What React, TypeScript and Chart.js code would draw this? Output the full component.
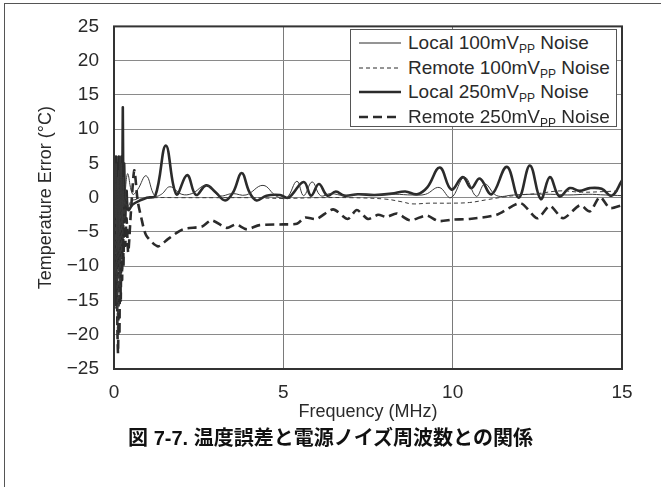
import React, { useEffect, useRef } from 'react';
import { Chart, registerables } from 'chart.js';

Chart.register(...registerables);

// ---- data (MHz, °C) ----
const local100X = [0, 0.02, 0.04, 0.06, 0.08, 0.1, 0.12, 0.14, 0.16, 0.18, 0.2, 0.22, 0.24, 0.27, 0.3, 0.4, 0.55, 0.7, 0.95, 1.2, 1.4, 1.65, 2.0, 2.3, 2.72, 3.1, 3.5, 3.9, 4.4, 4.8, 5.1, 5.4, 5.6, 5.85, 6.1, 6.4, 6.8, 7.3, 7.8, 8.3, 8.8, 9.2, 9.6, 9.95, 10.35, 10.7, 10.95, 11.3, 11.8, 12.3, 12.9, 13.4, 14.0, 14.5, 15];
const local100Y = [0, 4, -3, 5, -6, 3, -8, 4, -5, 6, -2, 5, -4, 3, -1, 3.5, 0.5, 1.2, 3.2, 0.3, 0.5, 1.6, 0.5, 0.6, 1.8, 0.3, 0.6, 0.4, 1.8, 0.2, 0.0, 2.4, 0.3, 2.3, 0.3, 0.6, 0.3, 0.5, 0.4, 0.5, 0.4, 0.5, 1.5, 0.0, 3.0, 0.2, 2.0, 0.3, 0.4, 0.5, 0.5, 0.4, 0.5, 0.4, 0.3];

const remote100X = [0, 0.02, 0.04, 0.06, 0.08, 0.1, 0.12, 0.14, 0.16, 0.18, 0.2, 0.22, 0.24, 0.26, 0.28, 0.31, 0.35, 0.4, 0.5, 0.6, 0.8, 1.2, 2, 3, 4, 5, 6, 7, 8, 8.5, 8.8, 9.3, 9.9, 10.5, 11.0, 11.5, 12.0, 12.5, 13.2, 13.8, 14.5, 15];
const remote100Y = [0, -6, 2, -12, -3, -20, -8, -17, -2, -13, 2, -9, 1, -6, 0, -3, 0.5, -1.5, -0.5, -0.3, -0.2, 0, 0, 0, 0, -0.1, 0, 0, -0.2, -0.6, -0.9, -0.8, -0.8, -0.7, -0.3, 0.1, 0.4, 0.6, 1.0, 0.8, 0.9, 1.0];

const local250X = [0, 0.02, 0.04, 0.06, 0.08, 0.1, 0.12, 0.14, 0.16, 0.18, 0.2, 0.22, 0.24, 0.26, 0.28, 0.3, 0.33, 0.37, 0.42, 0.55, 0.77, 0.97, 1.22, 1.53, 1.84, 2.16, 2.42, 2.72, 3.0, 3.28, 3.52, 3.77, 4.0, 4.21, 4.5, 4.9, 5.15, 5.6, 5.82, 6.05, 6.3, 6.55, 6.8, 7.2, 7.7, 8.2, 8.6, 8.95, 9.25, 9.62, 9.96, 10.3, 10.55, 10.8, 11.15, 11.6, 11.95, 12.28, 12.6, 12.87, 13.15, 13.46, 13.75, 14.05, 14.4, 14.7, 15];
const local250Y = [0, 5, -5, 6, -8, 5, -10, 6, -9, 4, -7, 6, -3, 13.2, -2, 5, -3, 1, -1.8, -1.0, -0.4, 0, 0.3, 7.6, 0.5, 3.3, 0.4, 1.8, 0.8, -0.4, 0.8, 3.6, 0.8, -0.4, 0.3, 0.4, 0.0, 2.3, 0.3, 2.0, 0.3, 0.9, 0.3, 0.5, 0.4, 0.6, 0.9, 0.5, 1.5, 4.4, 1.2, 3.0, 1.4, 2.8, 0.5, 4.5, 0.0, 4.7, -0.2, 3.0, 0.2, 1.4, 1.0, 1.4, 1.3, 0.3, 2.5];

const remote250X = [0, 0.02, 0.04, 0.06, 0.08, 0.1, 0.12, 0.14, 0.16, 0.18, 0.2, 0.22, 0.24, 0.26, 0.28, 0.3, 0.33, 0.37, 0.42, 0.5, 0.6, 0.7, 0.8, 0.95, 1.3, 1.6, 2.04, 2.6, 2.88, 3.33, 3.6, 3.92, 4.3, 5.0, 5.4, 5.64, 5.98, 6.47, 6.9, 7.17, 7.5, 7.8, 8.05, 8.35, 8.74, 9.23, 9.57, 10.0, 10.5, 11.3, 12.0, 12.5, 12.87, 13.26, 13.76, 14.05, 14.35, 14.64, 15];
const remote250Y = [0, -9, 1, -16, -4, -19, -22.7, -11, -20, -6, -15, 1, -12, 3, -10, 0, -7, -3, -8, -2, 4.0, -0.5, -2.8, -5.5, -7.1, -6, -4.6, -4.2, -3.3, -4.4, -3.9, -4.6, -4.0, -3.9, -3.8, -2.9, -3.1, -1.7, -3.1, -1.8, -3.1, -2.5, -2.8, -2.3, -3.3, -2.6, -3.4, -3.2, -3.1, -2.5, -0.8, -3.0, -1.2, -3.0, -1.1, -2.0, 0.1, -1.5, -1.1];

const xMin = 0, xMax = 15, xStep = 5;
const yMin = -25, yMax = 25, yStep = 5;
const xTitle = 'Frequency (MHz)';
const yTitle = 'Temperature Error (°C)';
const caption = '図 7-7. 温度誤差と電源ノイズ周波数との関係';

const legendItems = [
  { pre: 'Local 100mV', sub: 'PP', post: ' Noise', width: 1, dash: '' },
  { pre: 'Remote 100mV', sub: 'PP', post: ' Noise', width: 1, dash: '4 3' },
  { pre: 'Local 250mV', sub: 'PP', post: ' Noise', width: 2.6, dash: '' },
  { pre: 'Remote 250mV', sub: 'PP', post: ' Noise', width: 2.6, dash: '9 5' },
];

const zip = (xs: number[], ys: number[]) => xs.map((x, i) => ({ x, y: ys[i] }));

const FONT = "'Liberation Sans', Arial, Helvetica, sans-serif";
const TEXT = '#2a2a2a';

const framePlugin = {
  id: 'frame',
  afterDatasetsDraw(chart: any) {
    const { ctx, chartArea: a } = chart;
    ctx.save();
    ctx.strokeStyle = '#333';
    ctx.lineWidth = 2;
    ctx.strokeRect(a.left, a.top, a.right - a.left, a.bottom - a.top);
    ctx.restore();
  },
};

export default function App() {
  const ref = useRef<HTMLCanvasElement | null>(null);

  useEffect(() => {
    if (!ref.current) return;
    const common = { pointRadius: 0, fill: false, tension: 0.4 };
    const chart = new Chart(ref.current, {
      type: 'line',
      data: {
        datasets: [
          { ...common, label: 'Local 100mVPP Noise', data: zip(local100X, local100Y), borderColor: '#3a3a3a', borderWidth: 1 },
          { ...common, label: 'Remote 100mVPP Noise', data: zip(remote100X, remote100Y), borderColor: '#3a3a3a', borderWidth: 1, borderDash: [4, 3] },
          { ...common, label: 'Local 250mVPP Noise', data: zip(local250X, local250Y), borderColor: '#2b2b2b', borderWidth: 2.6 },
          { ...common, label: 'Remote 250mVPP Noise', data: zip(remote250X, remote250Y), borderColor: '#2b2b2b', borderWidth: 2.6, borderDash: [9, 5], tension: 0.25 },
        ],
      },
      options: {
        responsive: false,
        animation: false,
        parsing: false as any,
        layout: { padding: { left: 35, top: 26, right: 39, bottom: 64 } },
        plugins: { legend: { display: false }, tooltip: { enabled: false } },
        scales: {
          x: {
            type: 'linear',
            min: xMin,
            max: xMax,
            ticks: { stepSize: xStep, color: TEXT, font: { family: FONT, size: 19 }, padding: 12 },
            grid: {
              drawTicks: false,
              lineWidth: 1,
              color: (c: any) => (c.tick && (c.tick.value === xMin || c.tick.value === xMax) ? 'rgba(0,0,0,0)' : '#7a7a7a'),
            },
            border: { display: false },
            title: { display: true, text: xTitle, color: TEXT, font: { family: FONT, size: 18 }, padding: 0 },
            afterFit: (s: any) => { s.height = 54; },
          },
          y: {
            type: 'linear',
            min: yMin,
            max: yMax,
            ticks: {
              stepSize: yStep,
              color: TEXT,
              font: { family: FONT, size: 19 },
              padding: 15,
              callback: (v: any) => (v < 0 ? '\u2212' + Math.abs(v) : String(v)),
            },
            grid: { drawTicks: false, lineWidth: 1, color: '#8a8a8a' },
            border: { display: false },
            title: { display: true, text: yTitle, color: TEXT, font: { family: FONT, size: 18 }, padding: 0 },
            afterFit: (s: any) => { s.width = 79; },
          },
        },
      } as any,
      plugins: [framePlugin],
    });
    return () => chart.destroy();
  }, []);

  return (
    <div style={{ position: 'fixed', left: 0, top: 0, width: 661, height: 487, overflow: 'hidden', background: '#fff' }}>
      <div style={{ position: 'absolute', left: 4, top: 3, width: 800, height: 700, borderLeft: '1px solid #555', borderTop: '1px solid #555' }} />
      <canvas ref={ref} width={661} height={487} style={{ position: 'absolute', left: 0, top: 0, width: 661, height: 487 }} />
      <div
        style={{
          position: 'absolute', left: 350, top: 29, width: 265, height: 96,
          border: '1px solid #555', background: '#fff', fontFamily: FONT, color: TEXT,
        }}
      >
        {legendItems.map((it, i) => (
          <div key={i} style={{ position: 'absolute', left: 0, top: 1 + i * 24.6, height: 24, width: 265 }}>
            <svg width={50} height={24} style={{ position: 'absolute', left: 0, top: 0 }}>
              <line x1={8} x2={50} y1={12} y2={12} stroke="#2b2b2b" strokeWidth={it.width} strokeDasharray={it.dash || undefined} />
            </svg>
            <div style={{ position: 'absolute', left: 57, top: 0, lineHeight: '24px', fontSize: 19, whiteSpace: 'nowrap' }}>
              {it.pre}
              <sub style={{ fontSize: 12, verticalAlign: 'baseline', position: 'relative', top: 4 }}>{it.sub}</sub>
              {it.post}
            </div>
          </div>
        ))}
      </div>
      <div
        style={{
          position: 'absolute', left: 0, top: 426, width: 661, textAlign: 'center',
          fontFamily: "'Liberation Sans', 'Noto Sans CJK JP', sans-serif", fontWeight: 'bold', fontSize: 20, color: '#111', lineHeight: '24px',
        }}
      >
        {caption}
      </div>
    </div>
  );
}
